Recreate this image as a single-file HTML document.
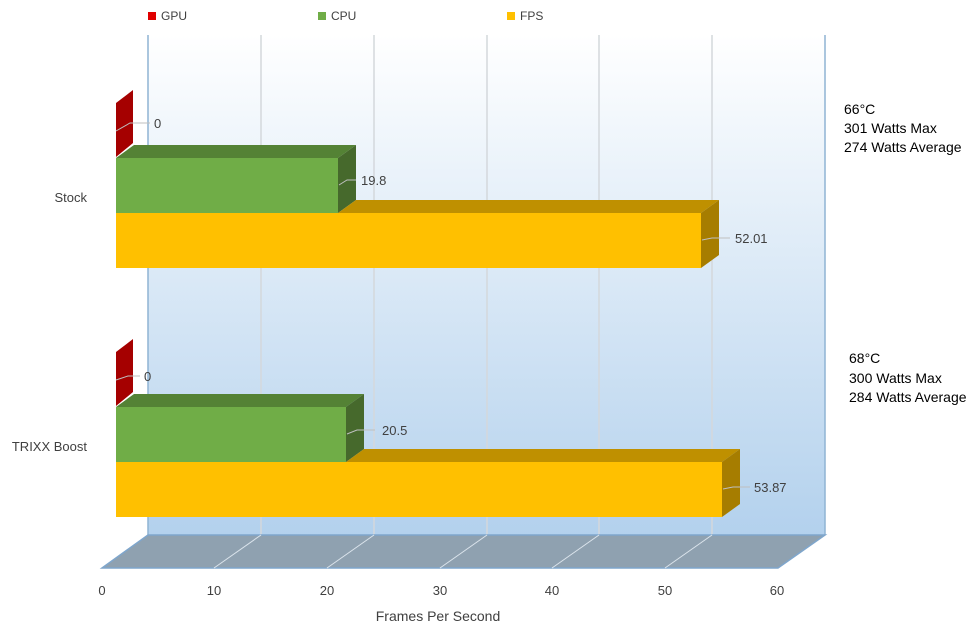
<!DOCTYPE html>
<html><head><meta charset="utf-8"><style>
body{margin:0;background:#fff;}
svg{display:block;font-family:"Liberation Sans",sans-serif;}
</style></head><body>
<svg width="978" height="631" viewBox="0 0 978 631">
<defs>
<linearGradient id="wall" x1="0" y1="0" x2="0" y2="1">
<stop offset="0" stop-color="#ffffff"/><stop offset="1" stop-color="#b3d1ed"/>
</linearGradient>
</defs>
<rect x="148" y="12" width="8" height="8" fill="#e00000"/><text x="161" y="20" font-size="12" fill="#404040">GPU</text>
<rect x="318" y="12" width="8" height="8" fill="#70ad47"/><text x="331" y="20" font-size="12" fill="#404040">CPU</text>
<rect x="507" y="12" width="8" height="8" fill="#ffc000"/><text x="520" y="20" font-size="12" fill="#404040">FPS</text>
<rect x="148" y="35" width="677" height="500" fill="url(#wall)"/>
<g stroke="#d4d8dc" stroke-width="1.5">
<line x1="261" y1="35" x2="261" y2="535"/><line x1="374" y1="35" x2="374" y2="535"/>
<line x1="487" y1="35" x2="487" y2="535"/><line x1="599" y1="35" x2="599" y2="535"/>
<line x1="712" y1="35" x2="712" y2="535"/>
</g>
<line x1="148" y1="35" x2="148" y2="535" stroke="#8fb4d4" stroke-width="1.5"/>
<line x1="825" y1="35" x2="825" y2="535" stroke="#8fb4d4" stroke-width="1.5"/>
<polygon points="148,535 825,535 778,568 102,568" fill="#8fa1b0" stroke="#7fa6cc" stroke-width="1.5"/>
<g stroke="#dbe4ec" stroke-width="1">
<line x1="261" y1="535" x2="214" y2="568"/><line x1="374" y1="535" x2="327" y2="568"/>
<line x1="487" y1="535" x2="440" y2="568"/><line x1="599" y1="535" x2="552" y2="568"/>
<line x1="712" y1="535" x2="665" y2="568"/>
</g>
<g font-size="13" fill="#404040" text-anchor="middle">
<text x="102" y="595">0</text><text x="214" y="595">10</text><text x="327" y="595">20</text>
<text x="440" y="595">30</text><text x="552" y="595">40</text><text x="665" y="595">50</text><text x="777" y="595">60</text>
<text x="438" y="621" font-size="14">Frames Per Second</text>
</g>
<g font-size="13" fill="#404040" text-anchor="end">
<text x="87" y="202">Stock</text><text x="87" y="451">TRIXX Boost</text>
</g>
<polygon points="116,103 133,90 133,143 116,157" fill="#a50000"/>
<polygon points="116,158 134,145 356,145 338,158" fill="#548235"/>
<polygon points="338,158 356,145 356,200 338,213" fill="#46692c"/>
<rect x="116" y="158" width="222" height="55" fill="#70ad47"/>
<polygon points="338,213 356,200 719,200 701,213" fill="#bf9000"/>
<polygon points="701,213 719,200 719,255 701,268" fill="#a67d00"/>
<rect x="116" y="213" width="585" height="55" fill="#ffc000"/>
<polygon points="116,352 133,339 133,392 116,406" fill="#a50000"/>
<polygon points="116,407 134,394 364,394 346,407" fill="#548235"/>
<polygon points="346,407 364,394 364,449 346,462" fill="#46692c"/>
<rect x="116" y="407" width="230" height="55" fill="#70ad47"/>
<polygon points="346,462 364,449 740,449 722,462" fill="#bf9000"/>
<polygon points="722,462 740,449 740,504 722,517" fill="#a67d00"/>
<rect x="116" y="462" width="606" height="55" fill="#ffc000"/>
<g stroke="#bfbfbf" stroke-width="1" fill="none">
<polyline points="116,131 130,123 150,123"/>
<polyline points="339,185 347,180 356,180"/>
<polyline points="702,240 712,238 730,238"/>
<polyline points="116,380 128,376 140,376"/>
<polyline points="347,434 357,430 375,430"/>
<polyline points="723,489 733,487 750,487"/>
</g>
<g font-size="13" fill="#404040">
<text x="154" y="128">0</text><text x="361" y="185">19.8</text><text x="735" y="243">52.01</text>
<text x="144" y="381">0</text><text x="382" y="435">20.5</text><text x="754" y="492">53.87</text>
</g>
<g font-size="14" fill="#000">
<text x="844" y="114">66°C</text><text x="844" y="133">301 Watts Max</text><text x="844" y="152">274 Watts Average</text>
<text x="849" y="363">68°C</text><text x="849" y="383">300 Watts Max</text><text x="849" y="402">284 Watts Average</text>
</g>
</svg>
</body></html>
